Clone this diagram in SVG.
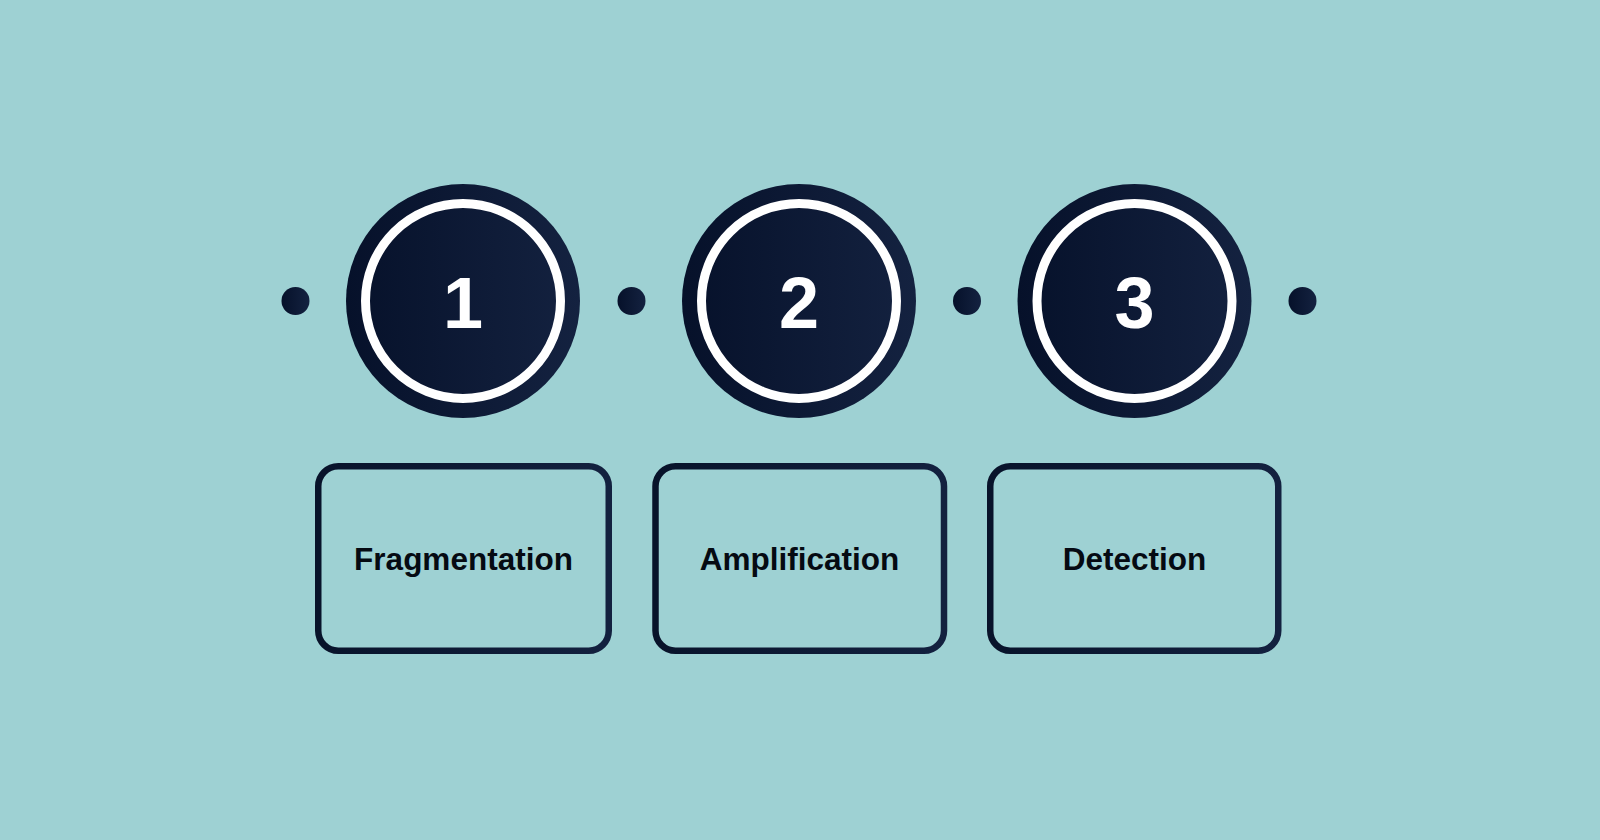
<svg xmlns="http://www.w3.org/2000/svg" width="1600" height="840" viewBox="0 0 1600 840">
  <defs>
    <linearGradient id="navy" x1="0" y1="0" x2="1" y2="0">
      <stop offset="0" stop-color="#06112a"/>
      <stop offset="1" stop-color="#142240"/>
    </linearGradient>
    <linearGradient id="navyS" gradientUnits="objectBoundingBox" x1="0" y1="0" x2="1" y2="0">
      <stop offset="0" stop-color="#08132a"/>
      <stop offset="1" stop-color="#13213f"/>
    </linearGradient>
  </defs>
  <style>
    .bg { fill: #9ed1d3; }
    .outer { fill: url(#navy); }
    .ring { fill: none; stroke: #ffffff; stroke-width: 9; }
    .num { font-family: "Liberation Sans", Arial, sans-serif; font-weight: bold; font-size: 72px; fill: #ffffff; text-anchor: middle; }
    .dot { fill: url(#navy); }
    .box { fill: none; stroke: url(#navyS); stroke-width: 6.5; }
    .label { font-family: "Liberation Sans", Arial, sans-serif; font-weight: bold; font-size: 31.5px; fill: #050a12; text-anchor: middle; }
  </style>
  <rect class="bg" x="0" y="0" width="1600" height="840"/>

  <g id="connectors">
    <circle class="dot" cx="295.5" cy="301" r="14"/>
    <circle class="dot" cx="631.5" cy="301" r="14"/>
    <circle class="dot" cx="967" cy="301" r="14"/>
    <circle class="dot" cx="1302.5" cy="301" r="14"/>
  </g>

  <g id="step1">
    <circle class="outer" cx="463" cy="301" r="117"/>
    <circle class="ring" cx="463" cy="301" r="97.5"/>
    <text class="num" x="463" y="328">1</text>
  </g>
  <g id="step2">
    <circle class="outer" cx="799" cy="301" r="117"/>
    <circle class="ring" cx="799" cy="301" r="97.5"/>
    <text class="num" x="799" y="328">2</text>
  </g>
  <g id="step3">
    <circle class="outer" cx="1134.5" cy="301" r="117"/>
    <circle class="ring" cx="1134.5" cy="301" r="97.5"/>
    <text class="num" x="1134.5" y="328">3</text>
  </g>

  <g id="box1">
    <rect class="box" x="318.25" y="466.25" width="290.5" height="184.5" rx="20" ry="20"/>
    <text class="label" x="463.5" y="570">Fragmentation</text>
  </g>
  <g id="box2">
    <rect class="box" x="655.5" y="466.25" width="288.5" height="184.5" rx="20" ry="20"/>
    <text class="label" x="799.5" y="570">Amplification</text>
  </g>
  <g id="box3">
    <rect class="box" x="990.25" y="466.25" width="288" height="184.5" rx="20" ry="20"/>
    <text class="label" x="1134.5" y="570">Detection</text>
  </g>
</svg>
